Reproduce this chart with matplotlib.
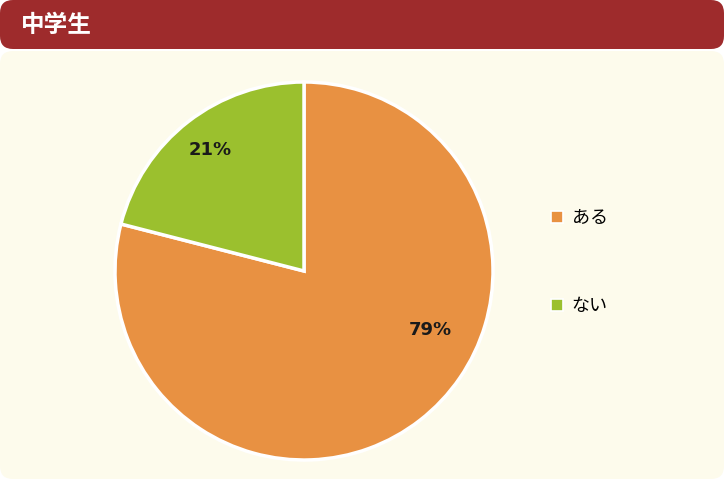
import numpy as np
import matplotlib
matplotlib.use("Agg")
import matplotlib.pyplot as plt
from matplotlib.patches import FancyBboxPatch
from matplotlib.lines import Line2D

plt.rcParams["font.family"] = ["Noto Sans CJK JP", "DejaVu Sans"]

title = "中学生"
labels = ["ある", "ない"]
values = [79, 21]
colors = ["#e89142", "#9bc02e"]

W, H = 725, 480
fig = plt.figure(figsize=(W / 100, H / 100), dpi=100)
fig.patch.set_facecolor("white")

# background panels (pixel coords, y down)
bg = fig.add_axes([0, 0, 1, 1])
bg.set_xlim(0, W)
bg.set_ylim(H, 0)
bg.axis("off")
bg.add_patch(FancyBboxPatch((0, 51), W - 1, H - 52, boxstyle="round,pad=0,rounding_size=13",
                            fc="#fdfbec", ec="none"))
bg.add_patch(FancyBboxPatch((0, 0), W - 1, 49, boxstyle="round,pad=0,rounding_size=13",
                            fc="#9e2b2c", ec="none"))
bg.text(21, 25, title, color="white", fontsize=17, fontweight="bold",
        va="center", ha="left")

# pie
cx, cy, r = 304, 271, 189
ax = fig.add_axes([(cx - r) / W, (H - cy - r) / H, 2 * r / W, 2 * r / H])
wedges, _ = ax.pie(values, colors=colors, startangle=90, counterclock=False,
                   wedgeprops=dict(edgecolor="white", linewidth=2.5))
ax.set_xlim(-1, 1)
ax.set_ylim(-1, 1)
ax.set_aspect("equal")

# percentage labels
label_pos = [(-25, 0.74), (127.8, 0.81)]
for v, (ang, rr) in zip(values, label_pos):
    a = np.deg2rad(ang)
    ax.text(rr * np.cos(a), rr * np.sin(a), f"{v}%", ha="center", va="center",
            fontsize=13, fontweight="bold", color="#1a1a1a", family="DejaVu Sans")

handles = [Line2D([], [], marker="s", linestyle="none", markersize=9,
                  markerfacecolor=c, markeredgecolor="white", markeredgewidth=1.2)
           for c in colors]
fig.legend(handles, labels, loc="upper left", bbox_to_anchor=(539 / W, 1 - 200 / H),
           frameon=False, fontsize=13, labelspacing=3.9, handletextpad=0.3,
           handlelength=1.0, borderpad=0)

fig.savefig("out.png", dpi=100, facecolor="white")
